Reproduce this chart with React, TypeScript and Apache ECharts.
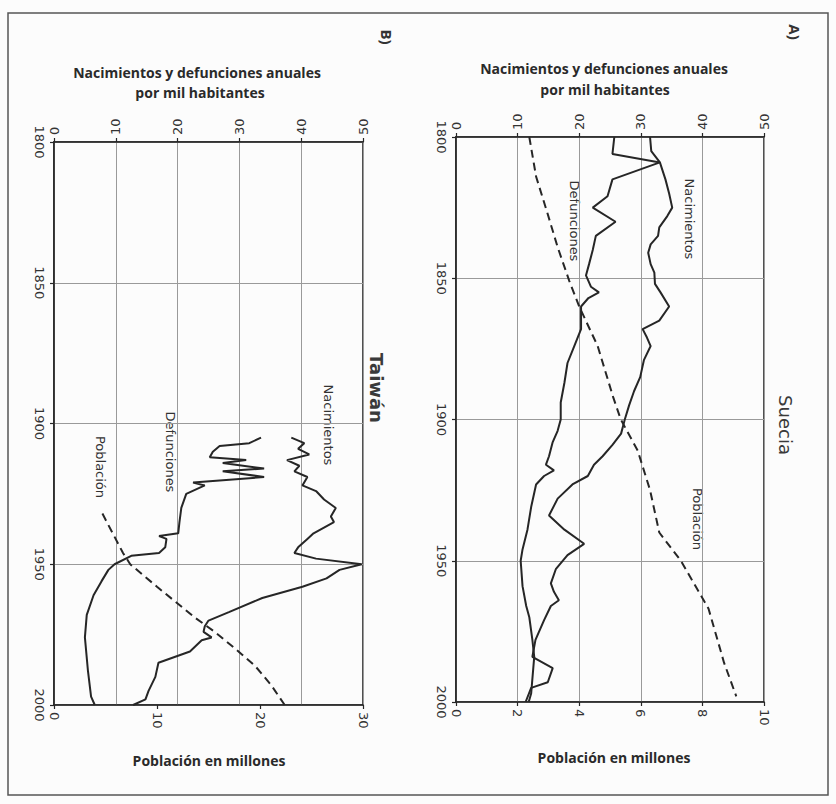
import React, { useEffect, useRef } from "react";
import * as echarts from "echarts";

// ---------- Suecia ----------
const sweBirthYears = [1800, 1805, 1809, 1815, 1820, 1825, 1828, 1832, 1835, 1838, 1841, 1845, 1848, 1852, 1855, 1860, 1865, 1868, 1871, 1874, 1879, 1885, 1890, 1895, 1900, 1905, 1909, 1913, 1916, 1920, 1923, 1928, 1934, 1939, 1944, 1948, 1953, 1958, 1961, 1964, 1966, 1971, 1978, 1984, 1988, 1993, 1995, 2000];
const sweBirths = [31.5, 31.7, 33.1, 34.0, 34.6, 35.1, 34.3, 33.0, 32.8, 31.6, 31.2, 31.6, 32.2, 32.3, 33.2, 34.6, 33.0, 30.3, 31.0, 31.6, 30.5, 29.9, 28.9, 28.1, 27.4, 26.8, 25.4, 23.8, 22.4, 21.4, 18.9, 16.5, 15.1, 17.6, 20.8, 18.1, 16.2, 15.4, 15.9, 16.7, 15.4, 14.3, 12.9, 12.4, 15.7, 14.9, 12.2, 11.3];

const sweDeathYears = [1800, 1806, 1809, 1815, 1821, 1825, 1830, 1835, 1840, 1845, 1849, 1853, 1855, 1857, 1860, 1868, 1874, 1880, 1887, 1894, 1900, 1904, 1908, 1913, 1916, 1918, 1920, 1923, 1931, 1939, 1946, 1950, 1959, 1966, 1970, 1978, 1984, 1997, 2000];
const sweDeaths = [25.7, 25.4, 33.1, 25.4, 24.6, 22.2, 25.9, 22.7, 22.2, 21.6, 21.1, 21.9, 23.2, 21.5, 20.3, 20.3, 19.2, 18.1, 17.6, 17.0, 17.0, 16.5, 15.7, 15.1, 14.6, 15.9, 14.3, 13.0, 12.2, 11.6, 10.8, 10.5, 10.8, 11.4, 11.9, 12.4, 12.7, 12.2, 11.8];

const swePopYears = [1800, 1814, 1827, 1839, 1851, 1860, 1874, 1892, 1900, 1911, 1925, 1940, 1950, 1967, 1986, 1998];
const swePop = [2.38, 2.6, 2.97, 3.3, 3.68, 4.0, 4.6, 5.1, 5.35, 5.9, 6.3, 6.6, 7.3, 8.2, 8.7, 9.1];

// ---------- Taiwán ----------
const twBirthYears = [1905, 1907, 1909, 1911, 1913, 1915, 1917, 1919, 1922, 1924, 1927, 1930, 1933, 1935, 1939, 1941, 1944, 1946, 1948, 1950, 1952, 1955, 1958, 1962, 1967, 1970, 1972, 1974, 1976, 1977, 1981, 1985, 1990, 1995, 1998, 2000];
const twBirths = [38.4, 40.5, 39.5, 41.3, 37.7, 39.7, 38.9, 41.0, 40.2, 42.4, 43.7, 45.6, 44.8, 45.3, 42.0, 41.0, 39.5, 38.9, 42.4, 49.8, 46.2, 44.1, 40.2, 33.7, 28.3, 25.0, 24.4, 24.2, 25.5, 23.9, 22.0, 16.9, 16.4, 15.3, 14.8, 12.8];

const twDeathYears = [1905, 1907, 1908, 1910, 1912, 1913, 1914, 1916, 1917, 1919, 1921, 1922, 1925, 1930, 1935, 1939, 1940, 1941, 1944, 1946, 1947, 1950, 1952, 1956, 1961, 1968, 1976, 1988, 1997, 2000];
const twDeaths = [33.5, 31.6, 26.8, 25.7, 25.2, 31.1, 27.3, 34.0, 27.3, 34.0, 22.5, 24.4, 21.4, 20.6, 20.3, 20.1, 17.0, 18.2, 18.0, 17.0, 12.5, 9.8, 8.8, 7.7, 6.4, 5.3, 5.0, 5.5, 6.0, 6.6];

const twPopYears = [1932, 1946, 1950, 1958, 1969, 1974, 1980, 1986, 1993, 2000];
const twPop = [4.7, 6.7, 7.4, 10.0, 13.7, 15.6, 17.6, 19.5, 21.1, 22.4];

const titleTop = ["Nacimientos y defunciones anuales", "por mil habitantes"];
const titleBottom = "Población en millones";

const pair = (years: number[], vals: number[]) => vals.map((v, i) => [v, years[i]]);

const INK = "#262626";
const GRIDC = "#9a9a9a";
const TICKFONT = "DejaVu Sans";

function xAxisDef(grid: number, pos: "top" | "bottom", max: number, interval: number, split: boolean) {
  return {
    gridIndex: grid,
    type: "value",
    position: pos,
    min: 0,
    max,
    interval,
    axisLine: { show: true, lineStyle: { color: INK, width: 1.6 } },
    axisTick: { show: true, length: 4, lineStyle: { color: INK, width: 1.2 } },
    axisLabel: { rotate: -90, color: "#333", fontSize: 13, fontFamily: TICKFONT, margin: 7, formatter: (v: number) => String(v) },
    splitLine: { show: split, lineStyle: { color: GRIDC, width: 1 } },
  };
}

function yAxisDef(grid: number) {
  return {
    gridIndex: grid,
    type: "value",
    min: 1800,
    max: 2000,
    interval: 50,
    inverse: true,
    axisLine: { show: true, lineStyle: { color: INK, width: 1.6 } },
    axisTick: { show: true, length: 4, lineStyle: { color: INK, width: 1.2 } },
    axisLabel: { rotate: -90, color: "#333", fontSize: 13, fontFamily: TICKFONT, margin: 8, formatter: (v: number) => String(v) },
    splitLine: { show: true, lineStyle: { color: GRIDC, width: 1 } },
  };
}

function lineSeries(data: number[][], xIdx: number, yIdx: number, dashed = false) {
  return {
    type: "line",
    xAxisIndex: xIdx,
    yAxisIndex: yIdx,
    data,
    symbol: "none",
    showSymbol: false,
    silent: true,
    lineStyle: { color: INK, width: 2, type: dashed ? [8, 5] : "solid" },
  };
}

function rotText(text: string, x: number, y: number, size: number, weight = "normal", font = "DejaVu Sans", fill = "#333") {
  return {
    type: "text",
    x,
    y,
    rotation: -Math.PI / 2,
    style: { text, fill, font: `${weight} ${size}px "${font}"`, align: "center", verticalAlign: "middle" },
  };
}

function hText(text: string, x: number, y: number, size: number, weight = "bold") {
  return {
    type: "text",
    x,
    y,
    style: { text, fill: "#2a2a2a", font: `${weight} ${size}px "Open Sans"`, align: "center", verticalAlign: "middle" },
  };
}

export default function App() {
  const ref = useRef<HTMLDivElement>(null);
  useEffect(() => {
    if (!ref.current) return;
    const chart = echarts.init(ref.current, null, { renderer: "svg" });
    chart.setOption({
      animation: false,
      backgroundColor: "#fcfcfc",
      grid: [
        { left: 456, top: 137, width: 308, height: 565, show: true, borderColor: INK, borderWidth: 1.6, backgroundColor: "transparent" },
        { left: 54, top: 142, width: 309, height: 563, show: true, borderColor: INK, borderWidth: 1.6, backgroundColor: "transparent" },
      ],
      xAxis: [
        xAxisDef(0, "top", 50, 10, true),
        xAxisDef(0, "bottom", 10, 2, false),
        xAxisDef(1, "top", 50, 10, true),
        xAxisDef(1, "bottom", 30, 10, false),
      ],
      yAxis: [yAxisDef(0), yAxisDef(1)],
      series: [
        lineSeries(pair(sweBirthYears, sweBirths), 0, 0),
        lineSeries(pair(sweDeathYears, sweDeaths), 0, 0),
        lineSeries(pair(swePopYears, swePop), 1, 0, true),
        lineSeries(pair(twBirthYears, twBirths), 2, 1),
        lineSeries(pair(twDeathYears, twDeaths), 2, 1),
        lineSeries(pair(twPopYears, twPop), 3, 1, true),
      ],
      graphic: [
        { type: "rect", shape: { x: 8, y: 13, width: 820, height: 782 }, style: { fill: "none", stroke: "#555", lineWidth: 1.5 }, silent: true },
        hText(titleTop[0], 604, 68, 14),
        hText(titleTop[1], 605, 89, 14),
        hText(titleTop[0], 197, 72, 14),
        hText(titleTop[1], 200, 92, 14),
        hText(titleBottom, 614, 757, 14),
        hText(titleBottom, 209, 760, 14),
        rotText("A)", 795, 32, 15, "bold", "Open Sans"),
        rotText("B)", 387, 37, 15, "bold", "Open Sans"),
        rotText("Suecia", 785, 425, 18, "normal", "DejaVu Sans", "#3a3a3a"),
        rotText("Taiwán", 376, 388, 18, "bold", "DejaVu Sans", "#3a3a3a"),
        rotText("Nacimientos", 689, 219, 13),
        rotText("Defunciones", 574, 221, 13),
        rotText("Población", 697, 519, 13),
        rotText("Nacimientos", 328, 425, 13),
        rotText("Defunciones", 170, 452, 13),
        rotText("Población", 100, 467, 13),
      ],
    });
    return () => chart.dispose();
  }, []);
  return <div ref={ref} style={{ position: "fixed", left: 0, top: 0, width: 836, height: 804 }} />;
}
